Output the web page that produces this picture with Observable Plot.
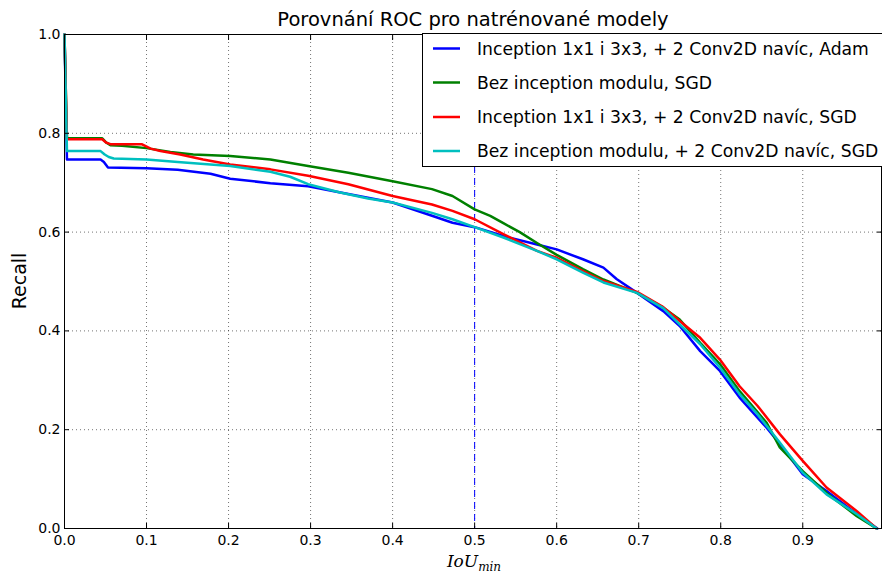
<!DOCTYPE html>
<html>
<head>
<meta charset="utf-8">
<script src="https://cdn.jsdelivr.net/npm/d3@7"></script>
<script src="https://cdn.jsdelivr.net/npm/@observablehq/plot@0.6"></script>
<style>
  html, body { margin: 0; padding: 0; background: #fff; }
  #chart { width: 882px; height: 574px; }
</style>
</head>
<body>
<div id="chart"></div>
<script>
const title = "Porovnání ROC pro natrénované modely";
const xLabelMain = "IoU";
const xLabelSub = "min";
const yLabel = "Recall";

const seriesNames = [
  "Inception 1x1 i 3x3, + 2 Conv2D navíc, Adam",
  "Bez inception modulu, SGD",
  "Inception 1x1 i 3x3, + 2 Conv2D navíc, SGD",
  "Bez inception modulu, + 2 Conv2D navíc, SGD"
];
const seriesColors = ["#0000ff", "#008000", "#ff0000", "#00bfbf"];

const xTicks = [0.0, 0.1, 0.2, 0.3, 0.4, 0.5, 0.6, 0.7, 0.8, 0.9];
const yTicks = [0.0, 0.2, 0.4, 0.6, 0.8, 1.0];
const threshold = [0.5];

// Series 1: blue
const blueX = [0, 0.003, 0.044, 0.048, 0.053, 0.1, 0.138, 0.178, 0.202, 0.251, 0.297, 0.346, 0.40, 0.448, 0.473, 0.5, 0.535, 0.576, 0.60, 0.632, 0.657, 0.673, 0.698, 0.73, 0.75, 0.775, 0.799, 0.823, 0.856, 0.872, 0.90, 0.929, 0.966, 0.991];
const blueY = [1.0, 0.747, 0.747, 0.742, 0.731, 0.729, 0.726, 0.718, 0.708, 0.699, 0.693, 0.677, 0.660, 0.633, 0.619, 0.610, 0.592, 0.575, 0.565, 0.545, 0.528, 0.505, 0.477, 0.440, 0.410, 0.359, 0.319, 0.265, 0.204, 0.171, 0.110, 0.076, 0.029, 0.0];
// Series 2: green
const greenX = [0, 0.003, 0.046, 0.051, 0.056, 0.07, 0.1, 0.129, 0.157, 0.202, 0.251, 0.297, 0.346, 0.40, 0.448, 0.473, 0.5, 0.519, 0.535, 0.555, 0.576, 0.60, 0.632, 0.657, 0.698, 0.73, 0.75, 0.775, 0.799, 0.823, 0.856, 0.872, 0.90, 0.929, 0.966, 0.99];
const greenY = [1.0, 0.790, 0.790, 0.781, 0.776, 0.775, 0.770, 0.762, 0.757, 0.754, 0.747, 0.734, 0.720, 0.703, 0.687, 0.673, 0.646, 0.633, 0.618, 0.600, 0.578, 0.554, 0.525, 0.504, 0.477, 0.447, 0.423, 0.376, 0.333, 0.278, 0.214, 0.164, 0.116, 0.072, 0.025, 0.0];
// Series 3: red
const redX = [0, 0.003, 0.046, 0.051, 0.056, 0.094, 0.105, 0.117, 0.141, 0.169, 0.202, 0.251, 0.297, 0.346, 0.40, 0.448, 0.473, 0.5, 0.535, 0.576, 0.60, 0.632, 0.657, 0.698, 0.73, 0.75, 0.775, 0.799, 0.823, 0.845, 0.872, 0.90, 0.929, 0.966, 0.982, 0.99];
const redY = [1.0, 0.788, 0.788, 0.781, 0.778, 0.778, 0.769, 0.764, 0.757, 0.747, 0.737, 0.727, 0.714, 0.697, 0.673, 0.656, 0.643, 0.626, 0.596, 0.562, 0.548, 0.521, 0.501, 0.479, 0.448, 0.420, 0.386, 0.342, 0.288, 0.248, 0.191, 0.137, 0.083, 0.035, 0.012, 0.0];
// Series 4: cyan
const cyanX = [0, 0.003, 0.044, 0.049, 0.054, 0.06, 0.1, 0.138, 0.178, 0.202, 0.251, 0.275, 0.297, 0.336, 0.37, 0.40, 0.448, 0.473, 0.5, 0.535, 0.576, 0.60, 0.632, 0.657, 0.698, 0.73, 0.75, 0.775, 0.799, 0.823, 0.845, 0.872, 0.90, 0.929, 0.966, 0.99];
const cyanY = [1.0, 0.764, 0.764, 0.757, 0.752, 0.749, 0.747, 0.742, 0.737, 0.734, 0.722, 0.712, 0.697, 0.680, 0.668, 0.660, 0.639, 0.626, 0.610, 0.589, 0.562, 0.545, 0.518, 0.498, 0.477, 0.446, 0.413, 0.373, 0.326, 0.272, 0.231, 0.174, 0.113, 0.069, 0.029, 0.0];

const seriesX = [blueX, greenX, redX, cyanX];
const seriesY = [blueY, greenY, redY, cyanY];
const rows = seriesNames.flatMap((name, i) =>
  seriesX[i].map((x, j) => ({series: name, x, y: seriesY[i][j]}))
);

const font = "DejaVu Sans";
const fmt = d3.format(".1f");

const chart = Plot.plot({
  width: 882,
  height: 574,
  marginLeft: 64,
  marginRight: 1,
  marginTop: 34,
  marginBottom: 46,
  style: {fontFamily: font, fontSize: "13.5px", color: "#000", background: "#fff", overflow: "visible"},
  x: {domain: [0, 0.996], label: null},
  y: {domain: [0, 1], label: null},
  color: {domain: seriesNames, range: seriesColors},
  marks: [
    Plot.gridX(xTicks, {stroke: "#000", strokeOpacity: 0.55, strokeDasharray: "1,3", strokeWidth: 1}),
    Plot.gridY(yTicks, {stroke: "#000", strokeOpacity: 0.55, strokeDasharray: "1,3", strokeWidth: 1}),
    Plot.ruleX(threshold, {stroke: "#0000ff", strokeDasharray: "7,5", strokeWidth: 1}),
    Plot.line(rows, {x: "x", y: "y", z: "series", stroke: "series", strokeWidth: 2.5, curve: "linear"}),
    Plot.axisX(xTicks, {anchor: "bottom", tickSize: -5, tickPadding: 12, tickFormat: fmt, fontSize: 14}),
    Plot.axisX(xTicks, {anchor: "top", tickSize: -5, tickFormat: () => "", label: null}),
    Plot.axisY(yTicks, {anchor: "left", tickSize: -5, tickPadding: 9, tickFormat: fmt, fontSize: 14}),
    Plot.axisY(yTicks, {anchor: "right", tickSize: -5, tickFormat: () => "", label: null}),
    Plot.frame({stroke: "#000", strokeWidth: 1})
  ]
});

document.getElementById("chart").appendChild(chart);

const svg = d3.select(chart);

// title
svg.append("text")
  .attr("x", 473).attr("y", 26)
  .attr("text-anchor", "middle")
  .attr("font-family", font).attr("font-size", 19.5).attr("fill", "#000")
  .text(title);

// y label
svg.append("text")
  .attr("transform", "translate(26,281) rotate(-90)")
  .attr("text-anchor", "middle")
  .attr("font-family", font).attr("font-size", 19).attr("fill", "#000")
  .text(yLabel);

// x label
const xl = svg.append("text")
  .attr("x", 474).attr("y", 567)
  .attr("text-anchor", "middle")
  .attr("font-family", "DejaVu Serif").attr("font-style", "italic")
  .attr("font-size", 17).attr("fill", "#000");
xl.append("tspan").text(xLabelMain);
xl.append("tspan").attr("font-size", 12).attr("dy", 4).text(xLabelSub);

// legend
const lg = svg.append("g").attr("text-anchor", "start");
lg.append("rect")
  .attr("x", 422.5).attr("y", 33.5).attr("width", 470).attr("height", 133)
  .attr("fill", "#fff").attr("stroke", "#000").attr("stroke-width", 1);
const rowY = [48.5, 82.5, 117, 151];
seriesNames.forEach((name, i) => {
  lg.append("line")
    .attr("x1", 433).attr("x2", 460).attr("y1", rowY[i]).attr("y2", rowY[i])
    .attr("stroke", seriesColors[i]).attr("stroke-width", 2.5);
  lg.append("text")
    .attr("x", 477).attr("y", rowY[i]).attr("dy", "0.36em")
    .attr("text-anchor", "start")
    .attr("font-family", font).attr("font-size", 17.2).attr("fill", "#000")
    .text(name);
});
</script>
</body>
</html>
